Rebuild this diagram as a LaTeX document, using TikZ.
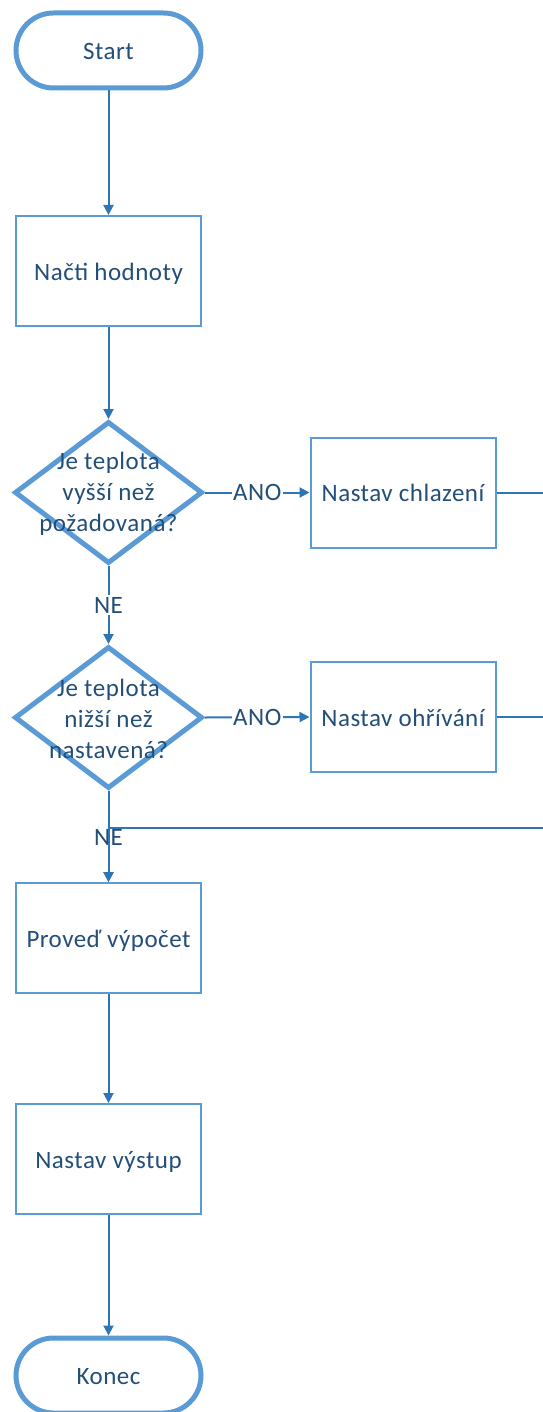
\documentclass[tikz,border=0pt]{standalone}
\usepackage{fontspec}
\setmainfont{Carlito}[LetterSpace=2]
\usetikzlibrary{shapes.geometric,arrows.meta}
\definecolor{shapeblue}{HTML}{5B9BD5}
\definecolor{linkblue}{HTML}{2E75B6}
\definecolor{textblue}{HTML}{234E78}
\tikzset{
  txt/.style={text=textblue,font=\fontsize{25pt}{31pt}\selectfont},
  boxtxt/.style={txt,text height=20pt,text depth=2pt},
  terminal/.style={boxtxt,draw=shapeblue,line width=5pt,rectangle,rounded corners=37.5pt,
    minimum width=185pt,minimum height=75pt,inner sep=0pt},
  process/.style={boxtxt,draw=shapeblue,line width=2pt,rectangle,
    minimum width=185pt,minimum height=110pt,inner sep=0pt},
  decision/.style={draw=shapeblue,line width=5pt,diamond,
    minimum width=188pt,minimum height=142pt,inner sep=0pt},
  dtext/.style={txt,align=center,inner sep=0pt},
  link/.style={draw=linkblue,line width=2pt},
  arr/.style={link,-{Triangle[length=10pt,width=10pt]}},
  tag/.style={txt,fill=white,inner sep=1.5pt},
}
\begin{document}
\begin{tikzpicture}[x=1pt,y=-1pt]
\useasboundingbox (0,0) rectangle (542,1412);

% nodes of the flow
\node[terminal] (start) at (108.5,50.5) {Start};
\node[process] (read) at (108.5,271) {Načti hodnoty};
\node[decision] (d1) at (108.5,492.5) {};
\node[dtext] (d1t) at (108.5,494) {Je teplota\\vyšší než\\požadovaná?};
\node[process] (cool) at (403,492.5) {Nastav chlazení};
\node[decision] (d2) at (108.5,717.5) {};
\node[dtext] (d2t) at (108.5,719) {Je teplota\\nižší než\\nastavená?};
\node[process] (heat) at (403,717) {Nastav ohřívání};
\node[process] (calc) at (108.5,938) {Proveď výpočet};
\node[process] (out) at (108.5,1159) {Nastav výstup};
\node[terminal] (stop) at (108.5,1375.5) {Konec};

% return path along the right edge
\coordinate (coolR) at (545,492.5);
\coordinate (heatR) at (545,717);
\coordinate (backR) at (545,828);
\coordinate (backL) at (108.5,828);

% connectors
\draw[arr] (start.south) -- (read.north);
\draw[arr] (read.south) -- (d1.north);
\draw[arr] (d1.east) -- node[tag] {ANO} (cool.west);
\draw[arr] (d1.south) -- node[tag] {NE} (d2.north);
\draw[arr] (d2.east) -- node[tag] {ANO} (heat.west);
\draw[arr] (d2.south) -- node[tag,pos=0.51] {NE} (calc.north);
\draw[link] (cool.east) -- (coolR);
\draw[link] (heat.east) -- (heatR);
\draw[arr] (backR) -- (backL) -- (calc.north);
\draw[arr] (calc.south) -- (out.north);
\draw[arr] (out.south) -- (stop.north);
\end{tikzpicture}
\end{document}
